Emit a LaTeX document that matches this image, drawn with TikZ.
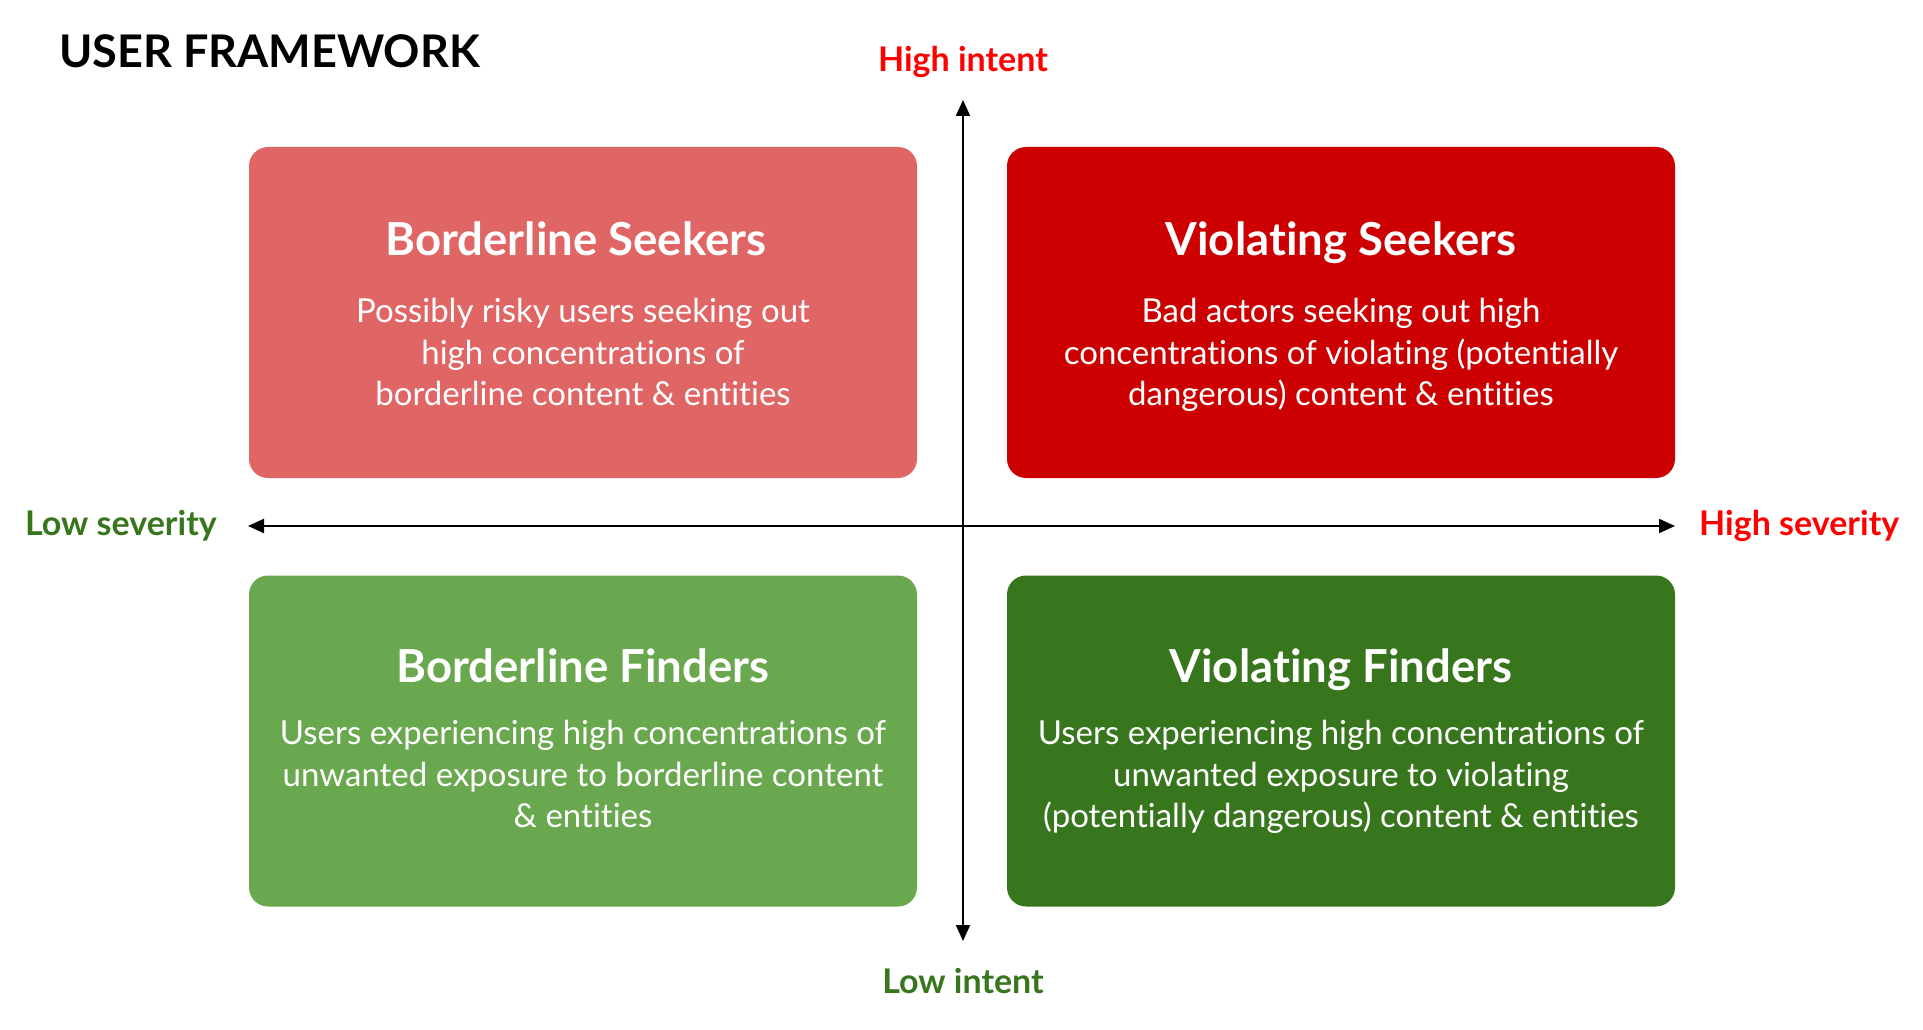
\documentclass[tikz,border=0pt]{standalone}
\usepackage{fontspec}
\setmainfont{Lato}[Ligatures={NoCommon}]
\usetikzlibrary{positioning,calc,arrows.meta}

\definecolor{seekred}{HTML}{E06666}
\definecolor{violred}{HTML}{CC0000}
\definecolor{findgreen}{HTML}{6AA84F}
\definecolor{violgreen}{HTML}{38761D}
\definecolor{highred}{HTML}{FF0000}
\newcommand{\firstline}{\rule{0pt}{30pt}}

\begin{document}
\begin{tikzpicture}[x=1pt,y=-1pt,
	quad/.style={rounded corners=19pt, minimum width=668pt, minimum height=331pt, inner sep=0pt},
	quadtitle/.style={anchor=base, inner sep=0pt, text=white, font=\fontsize{45.5}{52}\selectfont\bfseries},
	quadtext/.style={anchor=north, align=center, inner sep=0pt, text=white, font=\fontsize{33}{41.5}\selectfont},
	axislabel/.style={inner sep=0pt, font=\fontsize{34}{40}\selectfont\bfseries},
	axis/.style={line width=2pt, {Triangle[length=16pt,width=14pt]}-{Triangle[length=16pt,width=14pt]}}]
	\useasboundingbox (0,0) rectangle (1923,1030);
	\node[anchor=base west, inner sep=0pt, font=\fontsize{45}{54}\selectfont\bfseries] (head) at (59,68) {USER FRAMEWORK};
	% quadrants
	\node[quad, fill=seekred] (BS) at (583,312.5) {};
	\node[quad, fill=violred] (VS) at (1341,312.5) {};
	\node[quad, fill=findgreen] (BF) at (583,741) {};
	\node[quad, fill=violgreen] (VF) at (1341,741) {};
	\node[quadtitle] (BStitle) at ([xshift=-7pt,yshift=-109pt]BS.north) {Borderline Seekers};
	\node[quadtext] (BStext) at ([yshift=-145.5pt]BS.north) {\firstline Possibly risky users seeking out\\ high concentrations of\\ borderline content \& entities};
	\node[quadtitle] (VStitle) at ([yshift=-109pt]VS.north) {Violating Seekers};
	\node[quadtext] (VStext) at ([yshift=-145.5pt]VS.north) {\firstline Bad actors seeking out high\\ concentrations of violating (potentially\\ dangerous) content \& entities};
	\node[quadtitle] (BFtitle) at ([yshift=-107pt]BF.north) {Borderline Finders};
	\node[quadtext] (BFtext) at ([yshift=-139pt]BF.north) {\firstline Users experiencing high concentrations of\\ unwanted exposure to borderline content\\ \& entities};
	\node[quadtitle] (VFtitle) at ([yshift=-107pt]VF.north) {Violating Finders};
	\node[quadtext] (VFtext) at ([yshift=-139pt]VF.north) {\firstline Users experiencing high concentrations of\\ unwanted exposure to violating\\ (potentially dangerous) content \& entities};
	% axes
	\coordinate (N) at (963,100);
	\coordinate (S) at (963,941);
	\coordinate (W) at (248,526);
	\coordinate (E) at (1675,526);
	\draw[axis] (W) -- (E);
	\draw[axis] (S) -- (N);
	\node[axislabel, text=highred, above=22pt of N] (hiint) {High intent};
	\node[axislabel, text=violgreen, below=27pt of S] (loint) {Low intent};
	\node[axislabel, text=violgreen, left=31pt of W] (losev) {Low severity};
	\node[axislabel, text=highred, right=24pt of E] (hisev) {High severity};
\end{tikzpicture}
\end{document}
